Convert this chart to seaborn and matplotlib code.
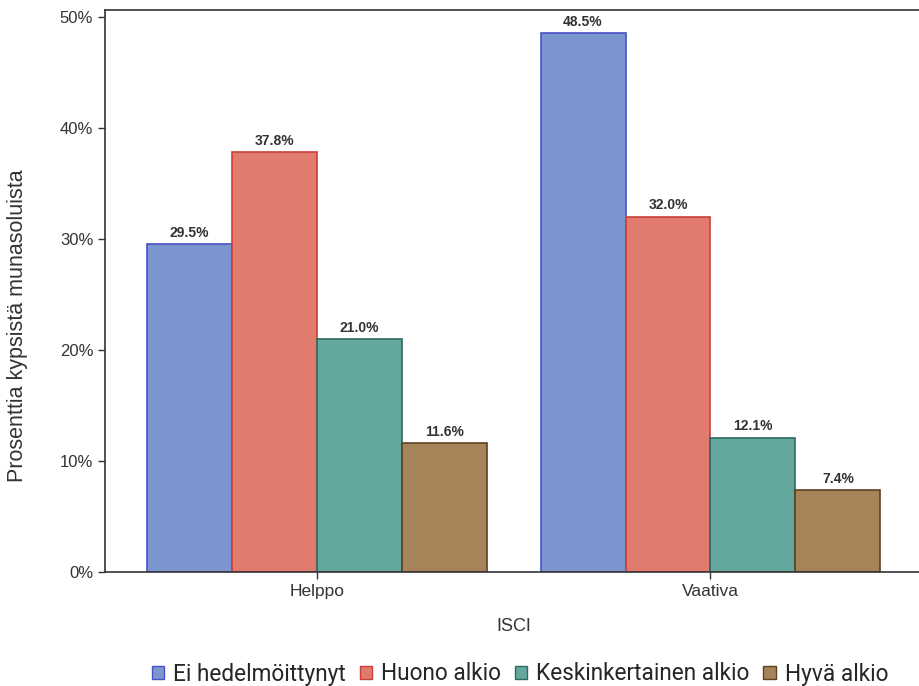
import pandas as pd
import matplotlib.pyplot as plt
import seaborn as sns
from matplotlib.ticker import PercentFormatter

# Data
groups = ['Helppo', 'Vaativa']
outcomes = ['Ei hedelmöittynyt', 'Huono alkio', 'Keskinkertainen alkio', 'Hyvä alkio']
helppo = [29.5, 37.8, 21.0, 11.6]
vaativa = [48.5, 32.0, 12.1, 7.4]

fills = ['#7b96cf', '#e07b6e', '#64a79c', '#a7835a']
edges = ['#4b4fcc', '#c8403c', '#2f6b63', '#5c4222']

df = pd.DataFrame({
    'ISCI': [groups[0]] * 4 + [groups[1]] * 4,
    'Tulos': outcomes * 2,
    'Osuus': helppo + vaativa,
})

sns.set_style('white')
plt.rcParams['font.family'] = ['Liberation Sans', 'DejaVu Sans']

fig = plt.figure(figsize=(9.2, 6.86), dpi=100)
ax = fig.add_axes([105 / 920, 114 / 686, 818 / 920, 562 / 686])

sns.barplot(data=df, x='ISCI', y='Osuus', hue='Tulos', hue_order=outcomes,
            palette=fills, saturation=1, width=0.863, ax=ax, legend=False)

for cont, ec in zip(ax.containers, edges):
    for bar in cont:
        bar.set_edgecolor(ec)
        bar.set_linewidth(1.2)
    ax.bar_label(cont, fmt='%.1f%%', padding=3, fontsize=10, fontweight='bold',
                 color='#333333')

ax.set_xlim(-0.538, 1.54)
ax.set_ylim(0, 50.6)
ax.set_yticks([0, 10, 20, 30, 40, 50])
ax.yaxis.set_major_formatter(PercentFormatter(decimals=0))
ax.tick_params(axis='both', which='major', length=5, width=1, colors='#333333',
               labelsize=12, bottom=True, left=True)
ax.tick_params(axis='x', labelsize=12.5)
for s in ['left', 'bottom', 'top']:
    ax.spines[s].set_color('#333333')
    ax.spines[s].set_linewidth(1.2)
ax.spines['right'].set_visible(False)

ax.set_xlabel('ISCI', fontsize=13, color='#333333', labelpad=14)
ax.set_ylabel('Prosenttia kypsistä munasoluista', fontsize=15.5, color='#333333')
ax.yaxis.set_label_coords(-0.094, 0.438)

handles = [plt.Rectangle((0, 0), 1, 1, facecolor=f, edgecolor=e, linewidth=1)
           for f, e in zip(fills, edges)]
fig.legend(handles, outcomes, loc='center', bbox_to_anchor=(520 / 920, 1 - 674 / 686),
           ncol=4, frameon=False, handlelength=0.55, handleheight=0.55,
           handletextpad=0.4, columnspacing=0.6,
           prop={'family': ['Roboto', 'DejaVu Sans'], 'size': 16.3})

plt.savefig('out.png', dpi=100)
